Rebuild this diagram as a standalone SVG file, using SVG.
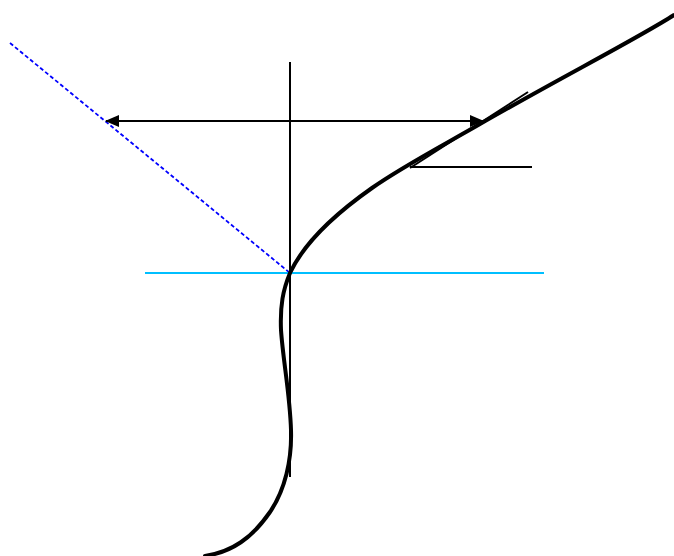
<svg xmlns="http://www.w3.org/2000/svg" width="674" height="556" viewBox="0 0 674 556">
<style>
.thin{stroke:#000;stroke-width:2;fill:none}
.curve{stroke:#000;stroke-width:4;fill:none;stroke-linecap:round;stroke-linejoin:round}
</style>
<defs>
<marker id="ah" viewBox="0 0 14 12" refX="13" refY="6" markerWidth="14" markerHeight="12" markerUnits="userSpaceOnUse" orient="auto-start-reverse">
<path d="M0,0 L14,6 L0,12 Z" fill="#000"/>
</marker>
</defs>
<rect width="674" height="556" fill="#fff"/>
<g id="connectors">
<line x1="10" y1="43" x2="290" y2="273" stroke="#0000ff" stroke-width="1.8" stroke-dasharray="4,2.5"/>
<line x1="145" y1="273" x2="544" y2="273" stroke="#00bfff" stroke-width="2"/>
<line class="thin" x1="290" y1="62" x2="290" y2="477"/>
<line class="thin" x1="106" y1="121" x2="483" y2="121" marker-start="url(#ah)" marker-end="url(#ah)"/>
<line class="thin" x1="528" y1="92" x2="410" y2="168"/>
<line class="thin" x1="410" y1="167" x2="532" y2="167"/>
</g>
<g id="curve">
<path class="curve" d="M674,15 C640,37 560,78 480,124 C440,147 400,168 372,188 C335,214 304,243 290,273 C283,290 280,305 281,330 C283,360 290,395 291,430 C292,460 285,490 270,512 C252,538 232,552 205,556"/>
</g>
</svg>
